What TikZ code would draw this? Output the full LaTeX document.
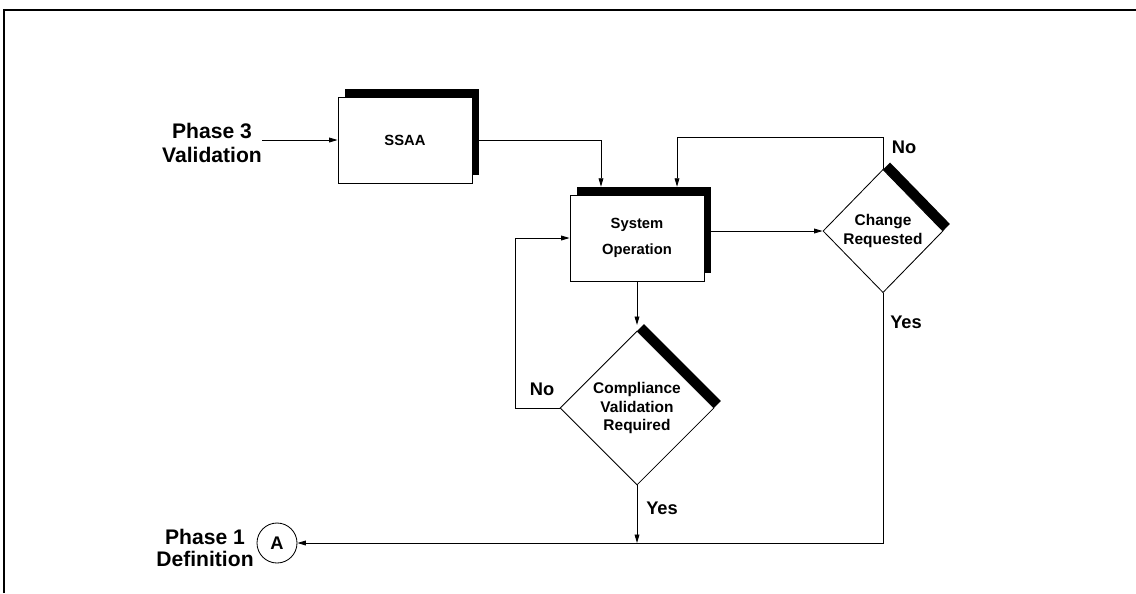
\documentclass[tikz,border=0pt]{standalone}
\usepackage{fontspec}
\setmainfont{Liberation Sans}
\usetikzlibrary{shapes.geometric,shadows,arrows.meta}

\begin{document}
\begin{tikzpicture}[x=0.025cm,y=-0.025cm,
  >={Triangle[length=6pt,width=3.4pt]},
  flow/.style={->,line width=0.6pt},
  phase/.style={align=center,inner sep=0pt,font=\bfseries\fontsize{15}{17}\selectfont},
  answer/.style={inner sep=0pt,font=\bfseries\fontsize{13}{15}\selectfont},
  stepbox/.style={draw,fill=white,line width=0.6pt,inner sep=0pt,align=center,
    minimum width=3.35cm,minimum height=2.15cm,
    general shadow={fill=black,shadow xshift=5pt,shadow yshift=5.6pt}},
  choice/.style={diamond,draw,fill=white,line width=0.6pt,inner sep=0pt,align=center,
    font=\bfseries\fontsize{11}{13}\selectfont,
    general shadow={fill=black,shadow xshift=5pt,shadow yshift=5pt}}]
\useasboundingbox (0,0) rectangle (1136,593);
\draw[line width=1.8pt] (4,593) -- (4,10) -- (1136,10);

% boxes and decisions
\node[stepbox,font=\bfseries\fontsize{10.5}{12}\selectfont] (ssaa) at (405,140) {\raisebox{-4pt}{SSAA}};
\node[stepbox,font=\bfseries\fontsize{10.5}{19}\selectfont] (sysop) at (637,238) {System\\Operation};
\node[choice,minimum width=3cm,minimum height=3.08cm] (change) at (883,231) {Change\\Requested};
\node[choice,minimum width=3.85cm,minimum height=3.85cm] (comp) at (637,408) {Compliance\\Validation\\Required};
\node[circle,draw,line width=0.6pt,minimum size=1cm,inner sep=0pt,
  font=\bfseries\fontsize{13}{15}\selectfont] (circA) at (277,543) {A};

% outside labels
\node[phase] (ph3) at (212,143) {Phase 3\\Validation};
\node[phase,font=\bfseries\fontsize{15}{15.5}\selectfont] (ph1) at (205,548) {Phase 1\\Definition};
\node[answer] (noch) at (904,147) {No};
\node[answer] (yesch) at (906,322) {Yes};
\node[answer] (nocomp) at (542,389) {No};
\node[answer] (yescomp) at (662,508) {Yes};

% connectors
\draw[flow] (ph3.east |- ssaa.west) -- (ssaa.west);
\draw[flow,shorten >=5.6pt] (ssaa.east) -| ([xshift=-0.9cm]sysop.north);
\draw[flow,shorten >=5.6pt] (change.north) -- ++(0,-32) -| ([xshift=1cm]sysop.north);
\draw[flow] (sysop.east |- change.west) -- (change.west);
\draw[flow,shorten >=4pt] (sysop.south) -- (comp.north);
\draw[flow] (comp.west) -- ++(-44,0) |- (sysop.west);
\coordinate (join) at (comp.south |- circA.east);
\draw[flow] (comp.south) -- (join);
\draw[flow] (change.south) |- (circA.east);
\end{tikzpicture}
\end{document}
